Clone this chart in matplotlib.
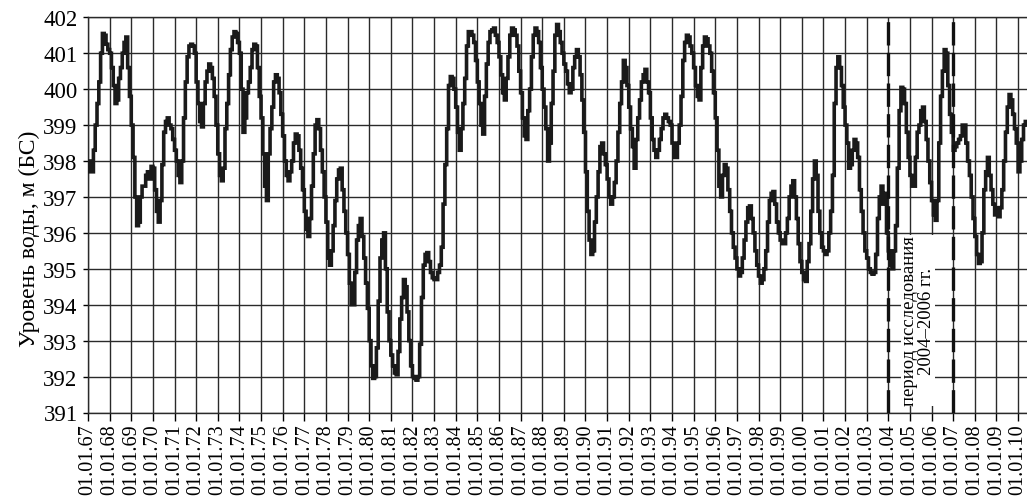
import numpy as np
import matplotlib
matplotlib.use("Agg")
import matplotlib.pyplot as plt

plt.rcParams['font.family'] = ['Liberation Serif', 'DejaVu Serif']

# Monthly water level of the reservoir, m (Baltic system), January..December
levels_1967_1976 = [
    398.0, 397.7, 397.7, 398.3, 399.0, 399.6, 400.2, 401.0, 401.55, 401.5, 401.25, 401.1,
    401.0, 400.6, 400.1, 399.6, 399.7, 400.3, 400.6, 401.0, 401.3, 401.45, 400.6, 399.8,
    399.0, 398.1, 397.0, 396.2, 396.3, 397.0, 397.3, 397.3, 397.6, 397.7, 397.5, 397.85,
    397.8, 397.2, 396.6, 396.3, 396.9, 397.9, 398.8, 399.1, 399.2, 399.0, 398.9, 398.6,
    398.3, 398.0, 397.6, 397.4, 398.0, 399.2, 400.2, 400.9, 401.2, 401.25, 401.2, 401.0,
    400.2, 399.6, 399.1, 398.95, 399.6, 400.2, 400.5, 400.7, 400.6, 400.3, 399.8, 399.0,
    398.2, 397.6, 397.45, 397.8, 398.9, 399.6, 400.4, 401.1, 401.45, 401.6, 401.55, 401.3,
    401.0, 400.0, 398.8, 399.2, 399.9, 400.2, 400.6, 401.1, 401.25, 401.2, 400.6, 399.8,
    399.2, 398.2, 397.3, 396.9, 398.2, 398.9, 399.5, 400.2, 400.4, 400.3, 399.9, 399.3,
    398.7, 398.0, 397.6, 397.45, 397.7, 398.0, 398.5, 398.75, 398.7, 398.3, 397.8, 397.2,
]
levels_1977_1986 = [
    396.6, 396.1, 395.9, 396.4, 397.3, 398.2, 399.0, 399.15, 398.9, 398.3, 397.7, 397.0,
    396.3, 395.3, 395.1, 395.5, 396.2, 396.9, 397.5, 397.75, 397.8, 397.2, 396.6, 396.0,
    395.4, 394.6, 394.0, 394.0, 394.9, 395.8, 396.2, 396.4, 395.9, 395.3, 394.6, 393.9,
    393.0, 392.3, 391.95, 392.0, 392.8, 394.1, 395.3, 395.8, 396.0, 395.0, 393.8, 393.0,
    392.6, 392.3, 392.1, 392.05, 392.7, 393.6, 394.2, 394.7, 394.5, 393.8, 393.0, 392.3,
    392.0, 391.95, 391.9, 392.0, 392.9, 394.2, 395.1, 395.4, 395.45, 395.2, 394.9, 394.75,
    394.7, 394.7, 394.9, 395.1, 395.6, 396.8, 397.9, 398.9, 400.1, 400.35, 400.3, 400.0,
    399.5, 398.8, 398.3, 398.9, 399.6, 400.3, 401.2, 401.6, 401.6, 401.5, 401.3, 400.8,
    400.2, 399.6, 399.0, 398.75, 399.8, 400.7, 401.3, 401.6, 401.65, 401.7, 401.5, 401.3,
    400.9, 400.4, 399.9, 399.7, 400.3, 400.9, 401.5, 401.7, 401.65, 401.5, 401.2, 400.5,
]
levels_1987_1996 = [
    399.9, 399.2, 398.7, 398.6, 399.4, 400.0, 400.9, 401.5, 401.7, 401.6, 401.3, 400.6,
    400.0, 399.5, 398.9, 398.0, 398.5, 399.6, 400.5, 401.5, 401.8, 401.6, 401.3, 401.0,
    400.7, 400.5, 400.15, 399.9, 400.0, 400.6, 400.9, 401.1, 400.9, 400.4, 399.7, 398.8,
    397.7, 396.6, 395.8, 395.4, 395.5, 396.3, 397.0, 397.7, 398.4, 398.5, 398.2, 397.9,
    397.5, 397.0, 396.8, 397.0, 397.4, 398.0, 398.8, 399.6, 400.2, 400.8, 400.6, 400.1,
    399.5, 398.9, 398.4, 397.8, 398.6, 399.2, 399.7, 400.2, 400.4, 400.55, 400.2, 399.9,
    399.2, 398.6, 398.3, 398.1, 398.3, 398.6, 398.9, 399.2, 399.3, 399.2, 399.1, 399.0,
    398.5, 398.1, 398.1, 398.5, 399.0, 399.8, 400.8, 401.3, 401.5, 401.45, 401.2, 401.0,
    400.6, 400.1, 399.8, 399.7, 400.6, 401.2, 401.45, 401.4, 401.2, 401.0, 400.5, 399.9,
    399.2, 398.3, 397.3, 397.0, 397.6, 397.9, 397.8, 397.2, 396.6, 396.0, 395.6, 395.3,
]
levels_1997_2010 = [
    395.0, 394.8, 394.9, 395.3, 395.8, 396.3, 396.7, 396.75, 396.4, 396.0, 395.5, 395.1,
    394.8, 394.6, 394.7, 395.0, 395.5, 396.3, 396.9, 397.1, 397.15, 396.8, 396.3, 396.0,
    395.8, 395.7, 395.7, 396.0, 396.4, 397.0, 397.3, 397.45, 397.0, 396.4, 395.7, 395.2,
    394.9, 394.7, 394.65, 395.2, 395.7, 396.6, 397.5, 398.0, 397.6, 396.6, 396.0, 395.6,
    395.5, 395.4, 395.5, 396.0, 396.6, 397.6, 399.6, 400.6, 400.9, 400.6, 400.1, 399.5,
    399.0, 398.5, 397.8, 397.9, 398.3, 398.6, 398.5, 398.1, 397.2, 396.6, 396.0, 395.5,
    395.3, 395.0, 394.9, 394.85, 394.9, 395.4, 396.4, 397.0, 397.3, 396.8, 397.1, 396.0,
    395.5, 395.1, 395.0, 395.5, 396.2, 397.8, 399.4, 400.05, 400.0, 399.6, 398.8, 398.1,
    397.6, 397.3, 397.3, 398.1, 398.8, 399.0, 399.4, 399.5, 399.1, 398.6, 398.0, 397.4,
    396.9, 396.5, 396.35, 396.9, 398.5, 399.8, 400.5, 401.1, 401.0, 400.1, 399.3, 398.8,
    398.3, 398.4, 398.5, 398.6, 398.7, 399.0, 399.0, 398.5, 398.0, 397.6, 397.0, 396.4,
    395.9, 395.4, 395.15, 395.2, 396.0, 397.2, 397.7, 398.1, 397.6, 397.2, 396.8, 396.5,
    396.7, 396.45, 396.7, 397.2, 398.0, 398.8, 399.5, 399.85, 399.7, 399.3, 398.9, 398.5,
    397.7, 398.0, 398.6, 399.0, 399.1,
]

first_year = 1967
tick_years = list(range(1967, 2011))
tick_labels = [f"01.01.{y % 100:02d}" for y in tick_years]
study_bounds = [2004, 2007]
study_label = "период исследования\n2004\u20132006 гг."
y_label = "Уровень воды, м (БС)"

levels = np.array(levels_1967_1976 + levels_1977_1986 + levels_1987_1996 + levels_1997_2010)
t = first_year + (np.arange(len(levels)) + 0.5) / 12.0

fig = plt.figure(figsize=(10.27, 5.02), dpi=100)
ax = fig.add_axes([88 / 1027, 88.5 / 502, 939 / 1027, 395.2 / 502])

# monthly levels drawn as a stepped trace
ax.plot(t, levels, color='#1a1a1a', lw=2.6, drawstyle='steps-mid',
        solid_joinstyle='miter', zorder=3)

for xb in study_bounds:
    ax.axvline(xb, color='#111111', lw=2.4, dashes=(7, 2.2), zorder=4)

ax.text(2005.37, 393.56, study_label, rotation=90, ha='center', va='center',
        multialignment='center', fontsize=13.5, linespacing=0.95, zorder=5,
        bbox=dict(facecolor='white', edgecolor='none', pad=0.5))

ax.set_xlim(1967, 1967 + 939 / 21.63)
ax.set_ylim(391, 402)
ax.set_xticks(tick_years)
ax.set_xticklabels(tick_labels, rotation=90, fontsize=14.5)
ax.set_yticks(range(391, 403))
ax.tick_params(axis='y', labelsize=16.5, length=3.5, width=1.0, pad=4, direction='out')
ax.tick_params(axis='x', length=6, width=1.0, pad=2, direction='out')
ax.grid(True, color='#2a2a2a', lw=1.0, zorder=1)
ax.set_axisbelow(True)
ax.spines['right'].set_visible(False)
for side in ('left', 'bottom', 'top'):
    ax.spines[side].set_color('#2a2a2a')
    ax.spines[side].set_linewidth(1.0)

fig.text(29 / 1027, 1 - 239 / 502, y_label, rotation=90, ha='center', va='center', fontsize=17)

fig.savefig("out.png", dpi=100)
